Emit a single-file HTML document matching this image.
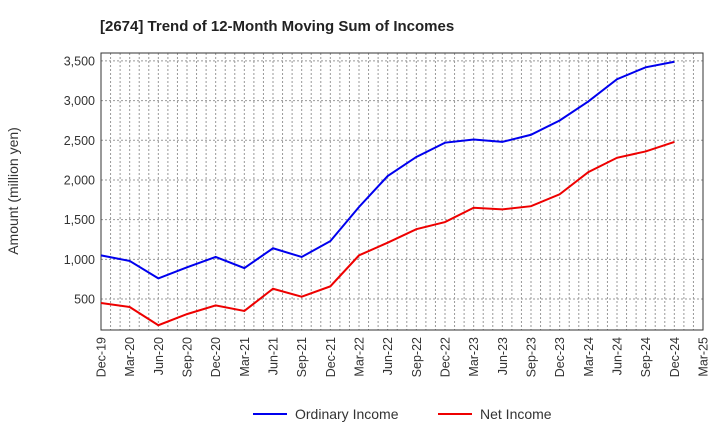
<!DOCTYPE html>
<html><head><meta charset="utf-8"><style>
body{margin:0;background:#fff;font-family:"Liberation Sans",Arial,sans-serif;}
</style></head><body>
<svg id="chart" width="720" height="440" xmlns="http://www.w3.org/2000/svg">
<text x="100" y="31" font-size="15" font-weight="bold" fill="#222">[2674]  Trend of 12-Month Moving Sum of Incomes</text>
<text transform="translate(18,191) rotate(-90)" text-anchor="middle" font-size="14" fill="#333">Amount (million yen)</text>
<g id="grid"></g>
<g id="axes"></g>
<g id="series"></g>
<g>
<g><line x1="253" y1="414" x2="287" y2="414" stroke="#0000ee" stroke-width="2"/><text x="295" y="419" font-size="14" fill="#333">Ordinary Income</text></g>
<g><line x1="438" y1="414" x2="472" y2="414" stroke="#ee0000" stroke-width="2"/><text x="480" y="419" font-size="14" fill="#333">Net Income</text></g>
</g>
</svg>
<script>
const categories=["Dec-19","Mar-20","Jun-20","Sep-20","Dec-20","Mar-21","Jun-21","Sep-21","Dec-21","Mar-22","Jun-22","Sep-22","Dec-22","Mar-23","Jun-23","Sep-23","Dec-23","Mar-24","Jun-24","Sep-24","Dec-24","Mar-25"];
const ordinaryIncome=[1050,980,760,900,1030,890,1140,1030,1230,1660,2050,2290,2470,2510,2480,2570,2750,2990,3270,3420,3490];
const netIncome=[450,400,170,310,420,350,630,530,660,1050,1210,1380,1470,1650,1630,1670,1820,2100,2280,2360,2480];
const yTicks=[500,1000,1500,2000,2500,3000,3500];
const yTickLabels=["500","1,000","1,500","2,000","2,500","3,000","3,500"];
const NS="http://www.w3.org/2000/svg";
const L=101,R=703,T=53,B=330,YMIN=110,YMAX=3600;
const nQ=categories.length-1;
function xq(i){return L+(R-L)*i/nQ;}
function y(v){return B-(v-YMIN)/(YMAX-YMIN)*(B-T);}
function mk(tag,attrs,parent){const e=document.createElementNS(NS,tag);for(const k in attrs)e.setAttribute(k,attrs[k]);parent.appendChild(e);return e;}
const grid=document.getElementById('grid'),axes=document.getElementById('axes'),series=document.getElementById('series');
for(let m=1;m<nQ*3;m++){const x=L+(R-L)*m/(nQ*3);
const g=mk('line',{x1:x,y1:T,x2:x,y2:B,stroke:'#999','stroke-dasharray':'2,2','stroke-width':1},grid);

}
yTicks.forEach((v,i)=>{const yy=y(v);
const g=mk('line',{x1:L,y1:yy,x2:R,y2:yy,stroke:'#999','stroke-dasharray':'2,2','stroke-width':1},grid);


const t=mk('text',{x:L-6,y:yy+4.5,'text-anchor':'end','font-size':12.5,fill:'#333'},axes);t.textContent=yTickLabels[i];

});
const frame=mk('rect',{x:L,y:T,width:R-L,height:B-T,fill:'none',stroke:'#333','stroke-width':1},axes);


categories.forEach((c,i)=>{const x=xq(i);
const t=mk('text',{transform:`translate(${x+4.5},${B+7}) rotate(-90)`,'text-anchor':'end','font-size':12.5,fill:'#333'},axes);t.textContent=c;

});
function line(data,color,name){const p=mk('polyline',{points:data.map((v,i)=>xq(i)+','+y(v)).join(' '),fill:'none',stroke:color,'stroke-width':2},series);

}
line(ordinaryIncome,'#0000ee','ordinary-income-line');
line(netIncome,'#ee0000','net-income-line');
</script>
</body></html>
